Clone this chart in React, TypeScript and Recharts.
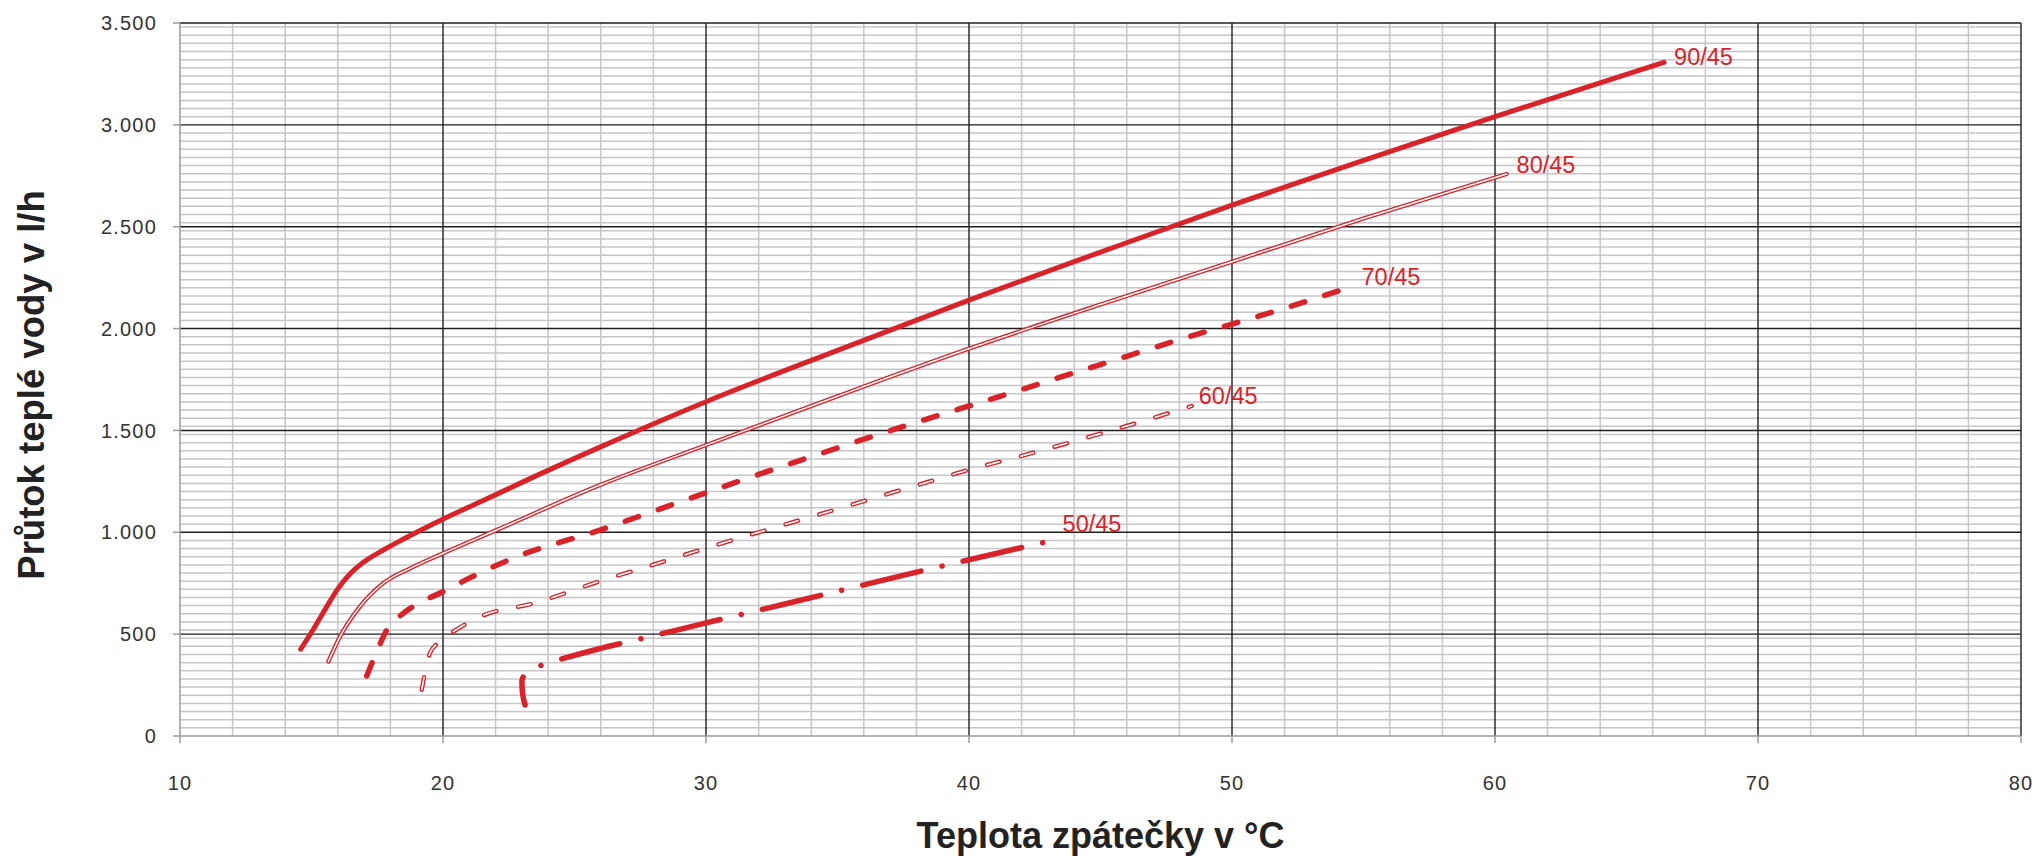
import React from 'react';
import { LineChart, Line, XAxis, YAxis, CartesianGrid, Label } from 'recharts';

// ---- data ----
const xTicks = [10, 20, 30, 40, 50, 60, 70, 80];
const yTicks = [0, 500, 1000, 1500, 2000, 2500, 3000, 3500];

const temp90 = [14.59, 15.1, 15.58, 16.0, 16.46, 17.0, 17.73, 18.4, 19.0, 20.01, 21.53, 23.0, 25.97, 30, 35, 40, 45, 50, 55, 60, 66.43];
const flow90 = [426, 530, 635, 722, 795, 855, 913, 960, 1000, 1065, 1156, 1245, 1418, 1641, 1893, 2140, 2375, 2606, 2826, 3040, 3307];

const temp80 = [15.64, 16.08, 16.84, 17.73, 18.75, 20.01, 22.04, 25.97, 30, 35, 40.04, 45, 50, 55, 60.44];
const flow80 = [365, 487, 635, 750, 823, 897, 1011, 1232, 1428, 1668, 1903, 2118, 2328, 2540, 2759];

const temp70 = [17.1, 17.5, 17.86, 18.49, 19.2, 20.0, 21.0, 22.8, 25.97, 28, 30, 32, 34, 36, 38, 40, 42, 44, 46, 48, 50, 52, 54.43];
const flow70 = [295, 420, 520, 602, 660, 708, 775, 880, 1011, 1103, 1194, 1284, 1371, 1457, 1540, 1620, 1701, 1783, 1864, 1946, 2022, 2100, 2201];

const temp60 = [19.19, 19.5, 19.82, 20.39, 21.5, 23.44, 25.9, 28, 30, 32, 34, 36, 38, 40, 42, 44, 46, 48.47];
const flow60 = [226, 406, 458, 512, 590, 651, 757, 841, 922, 1000, 1076, 1153, 1230, 1307, 1375, 1447, 1522, 1620];

const temp50 = [23.12, 23.02, 23.0, 23.15, 23.45, 23.84, 24.51, 25.9, 28, 30, 33, 36, 39, 42.26, 42.95];
const flow50 = [152, 215, 270, 305, 330, 352, 378, 427, 492, 555, 648, 742, 835, 933, 954];

const seriesNames = ['90/45', '80/45', '70/45', '60/45', '50/45'];

const toPoints = (xs: number[], ys: number[]) => xs.map((t, i) => ({ t, q: ys[i] }));

const d90 = toPoints(temp90, flow90);
const d80 = toPoints(temp80, flow80);
const d70 = toPoints(temp70, flow70);
const d60 = toPoints(temp60, flow60);
const d50 = toPoints(temp50, flow50);

// ---- style ----
const RED = '#d8232a';
const FONT = '"Liberation Sans", Arial, Helvetica, sans-serif';

const minorY = Array.from({ length: 88 }, (_, i) => i * 40).filter((v) => v % 500 !== 0);
const minorX = Array.from({ length: 35 }, (_, i) => 12 + i * 2).filter((v) => v % 10 !== 0);
const majorY = [500, 1000, 1500, 2000, 2500, 3000, 3500];
const majorX = [20, 30, 40, 50, 60, 70, 80];

const fmtFlow = (v: number) =>
  v >= 1000 ? `${Math.floor(v / 1000)}.${String(v % 1000).padStart(3, '0')}` : String(v);

const labelOffsets: Record<string, [number, number]> = {
  '90/45': [10, -6],
  '80/45': [10, -9.5],
  '70/45': [13, -11],
  '60/45': [7, -10.5],
  '50/45': [16, -18.5],
};

const endLabel = (name: string, count: number) => (props: any) => {
  const { x, y, index } = props;
  if (index !== count - 1) return null;
  const [dx, dy] = labelOffsets[name];
  return (
    <text
      x={x + dx}
      y={y + dy + 8.4}
      fill={RED}
      fontSize={23.5}
      fontFamily={FONT}
      textAnchor="start"
    >
      {name}
    </text>
  );
};

const YTitle = () => (
  <text
    x={36}
    y={377}
    transform="rotate(-90, 36, 377)"
    textAnchor="middle"
    fontSize={36.5}
    fontWeight="bold"
    fontFamily={FONT}
    fill="#222"
  >
    Průtok teplé vody v l/h
  </text>
);

export default function App() {
  const tickStyle = { fontSize: 20, fontFamily: FONT, fill: '#333', letterSpacing: 1.2 };
  return (
    <div style={{ position: 'absolute', left: 8, top: 8, width: 2031, height: 848 }}>
      <LineChart
        width={2031}
        height={848}
        margin={{ top: 15, right: 18, bottom: 0, left: 0 }}
      >
        <CartesianGrid
          horizontalValues={minorY}
          verticalValues={minorX}
          stroke="#c6c6ca"
          strokeWidth={1.5}
        />
        <CartesianGrid
          horizontalValues={majorY}
          verticalValues={majorX}
          stroke="#1e1e1e"
          strokeWidth={1.4}
        />
        <XAxis
          dataKey="t"
          type="number"
          domain={[10, 80]}
          ticks={xTicks}
          interval={0}
          allowDataOverflow
          height={120}
          tickSize={7}
          tickMargin={33}
          tick={tickStyle}
          tickLine={{ stroke: '#9b9b9b', strokeWidth: 1.5 }}
          axisLine={{ stroke: '#9b9b9b', strokeWidth: 1.5 }}
        >
          <Label
            value="Teplota zpátečky v °C"
            position="insideBottom"
            offset={8}
            style={{ fontSize: 36, fontWeight: 'bold', fontFamily: FONT, fill: '#222' }}
          />
        </XAxis>
        <YAxis
          type="number"
          domain={[0, 3500]}
          ticks={yTicks}
          interval={0}
          allowDataOverflow
          width={172}
          tickSize={7}
          tickMargin={16}
          tickFormatter={fmtFlow}
          tick={tickStyle}
          tickLine={{ stroke: '#9b9b9b', strokeWidth: 1.5 }}
          axisLine={{ stroke: '#9b9b9b', strokeWidth: 1.5 }}
          label={{ content: () => <YTitle /> }}
        />

        {/* 50/45 dash-dot */}
        <Line
          data={d50}
          dataKey="q"
          type="monotoneY"
          stroke={RED}
          strokeWidth={5.5}
          strokeLinecap="round"
          strokeDasharray="60 21.6 0.1 21.6"
          strokeDashoffset={31.5}
          dot={false}
          activeDot={false}
          isAnimationActive={false}
          label={endLabel(seriesNames[4], d50.length)}
        />
        {/* 60/45 double dashed */}
        <Line
          data={d60}
          dataKey="q"
          type="monotone"
          stroke={RED}
          strokeWidth={4.4}
          strokeLinecap="round"
          strokeDasharray="13 22"
          dot={false}
          activeDot={false}
          isAnimationActive={false}
          label={endLabel(seriesNames[3], d60.length)}
        />
        <Line
          data={d60}
          dataKey="q"
          type="monotone"
          stroke="#ffffff"
          strokeWidth={1.6}
          strokeLinecap="round"
          strokeDasharray="13 22"
          dot={false}
          activeDot={false}
          isAnimationActive={false}
        />
        {/* 70/45 thick dashed */}
        <Line
          data={d70}
          dataKey="q"
          type="monotone"
          stroke={RED}
          strokeWidth={5.5}
          strokeLinecap="round"
          strokeDasharray="14 21"
          dot={false}
          activeDot={false}
          isAnimationActive={false}
          label={endLabel(seriesNames[2], d70.length)}
        />
        {/* 80/45 double line */}
        <Line
          data={d80}
          dataKey="q"
          type="monotone"
          stroke={RED}
          strokeWidth={4.2}
          strokeLinecap="round"
          dot={false}
          activeDot={false}
          isAnimationActive={false}
          label={endLabel(seriesNames[1], d80.length)}
        />
        <Line
          data={d80}
          dataKey="q"
          type="monotone"
          stroke="#ffffff"
          strokeWidth={1.5}
          strokeLinecap="round"
          dot={false}
          activeDot={false}
          isAnimationActive={false}
        />
        {/* 90/45 thick solid */}
        <Line
          data={d90}
          dataKey="q"
          type="monotone"
          stroke={RED}
          strokeWidth={5}
          strokeLinecap="round"
          dot={false}
          activeDot={false}
          isAnimationActive={false}
          label={endLabel(seriesNames[0], d90.length)}
        />
      </LineChart>
    </div>
  );
}
